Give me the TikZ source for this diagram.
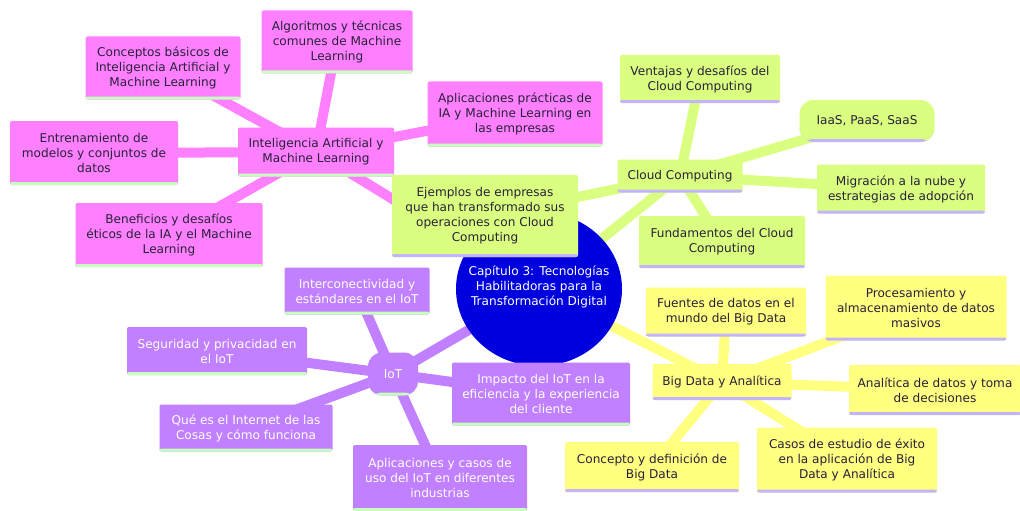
\documentclass[tikz,border=0pt]{standalone}
\usepackage{fontspec}
\setmainfont{DejaVu Sans}
\usepackage{tikz}
\usetikzlibrary{shapes.geometric, backgrounds}

\definecolor{rosa}{RGB}{255,128,255}
\definecolor{lima}{RGB}{218,255,128}
\definecolor{amarillo}{RGB}{255,255,128}
\definecolor{lila}{RGB}{192,128,255}
\definecolor{azul}{RGB}{0,0,222}
\definecolor{tinta}{RGB}{40,32,56}
\definecolor{bordeverde}{RGB}{200,255,190}
\definecolor{bordelila}{RGB}{196,180,255}

\begin{document}
\begin{tikzpicture}[
		x=1pt, y=-1pt,
		font=\fontsize{12.1}{15}\selectfont,
		% caja base de cada tema
		tema/.style={rectangle, rounded corners=2pt, align=center, inner sep=2pt},
		iabox/.style={tema, fill=rosa, text=tinta, path picture={\fill[bordeverde] ([yshift=3pt]path picture bounding box.south west) rectangle (path picture bounding box.south east);}},
		nubebox/.style={tema, fill=lima, text=tinta, path picture={\fill[bordelila] ([yshift=3pt]path picture bounding box.south west) rectangle (path picture bounding box.south east);}},
		iotbox/.style={tema, fill=lila, text=white, path picture={\fill[bordeverde] ([yshift=3pt]path picture bounding box.south west) rectangle (path picture bounding box.south east);}},
		datosbox/.style={tema, fill=amarillo, text=tinta, path picture={\fill[bordelila] ([yshift=3pt]path picture bounding box.south west) rectangle (path picture bounding box.south east);}},
		rama/.style={line width=10pt},
		]
		
		\useasboundingbox (0,0) rectangle (1020,511);
		
		% nodo central
		\node[ellipse, fill=azul, text=white, minimum width=166pt, minimum height=154pt] (centro) at (539,289) {};
		\node[align=center, text=white] (titulo) at (539,287) {Capítulo 3: Tecnologías\\Habilitadoras para la\\Transformación Digital};
		
		% Inteligencia Artificial
		\node[iabox, minimum width=156pt, minimum height=49pt] (ia) at (316,152) {Inteligencia Artificial y\\Machine Learning};
		\node[iabox, minimum width=155pt, minimum height=63pt] (conceptos) at (163,68) {Conceptos básicos de\\Inteligencia Artificial y\\Machine Learning};
		\node[iabox, minimum width=151pt, minimum height=63pt] (algoritmos) at (337,42) {Algoritmos y técnicas\\comunes de Machine\\Learning};
		\node[iabox, minimum width=175pt, minimum height=65pt] (aplicaciones) at (515,114) {Aplicaciones prácticas de\\IA y Machine Learning en\\las empresas};
		\node[iabox, minimum width=168pt, minimum height=64pt] (entrenamiento) at (94,153) {Entrenamiento de\\modelos y conjuntos de\\datos};
		\node[iabox, minimum width=187pt, minimum height=64pt] (beneficios) at (169,235) {Beneficios y desafíos\\éticos de la IA y el Machine\\Learning};
		
		% Cloud Computing
		\node[nubebox, minimum width=125pt, minimum height=33pt] (nube) at (680,176) {Cloud Computing};
		\node[nubebox, minimum width=186pt, minimum height=82pt] (ejemplos) at (485,216) {Ejemplos de empresas\\que han transformado sus\\operaciones con Cloud\\Computing};
		\node[nubebox, minimum width=160pt, minimum height=48pt] (ventajas) at (700,79) {Ventajas y desafíos del\\Cloud Computing};
		\node[nubebox, rounded corners=14pt, minimum width=135pt, minimum height=42pt] (iaas) at (867,121) {IaaS, PaaS, SaaS};
		\node[nubebox, minimum width=168pt, minimum height=49pt] (migracion) at (901,189) {Migración a la nube y\\estrategias de adopción};
		\node[nubebox, minimum width=166pt, minimum height=52pt] (fundamentos) at (722,242) {Fundamentos del Cloud\\Computing};
		
		% IoT
		\node[iotbox, rounded corners=14pt, minimum width=50pt, minimum height=43pt] (iot) at (393,374) {IoT};
		\node[iotbox, minimum width=145pt, minimum height=47pt] (interconectividad) at (357,291) {Interconectividad y\\estándares en el IoT};
		\node[iotbox, minimum width=180pt, minimum height=48pt] (seguridad) at (217,351) {Seguridad y privacidad en\\el IoT};
		\node[iotbox, minimum width=173pt, minimum height=47pt] (quees) at (246,428) {Qué es el Internet de las\\Cosas y cómo funciona};
		\node[iotbox, minimum width=174pt, minimum height=66pt] (casosuso) at (440,478) {Aplicaciones y casos de\\uso del IoT en diferentes\\industrias};
		\node[iotbox, minimum width=178pt, minimum height=63pt] (impacto) at (541,394) {Impacto del IoT en la\\eficiencia y la experiencia\\del cliente};
		
		% Big Data
		\node[datosbox, minimum width=139pt, minimum height=36pt] (bigdata) at (722,382) {Big Data y Analítica};
		\node[datosbox, minimum width=160pt, minimum height=49pt] (fuentes) at (726,312) {Fuentes de datos en el\\mundo del Big Data};
		\node[datosbox, minimum width=181pt, minimum height=65pt] (procesamiento) at (916,308) {Procesamiento y\\almacenamiento de datos\\masivos};
		\node[datosbox, minimum width=172pt, minimum height=50pt] (analitica) at (935,390) {Analítica de datos y toma\\de decisiones};
		\node[datosbox, minimum width=174pt, minimum height=50pt] (concepto) at (652,467) {Concepto y definición de\\Big Data};
		\node[datosbox, minimum width=180pt, minimum height=65pt] (casos) at (847,460) {Casos de estudio de éxito\\en la aplicación de Big\\Data y Analítica};
		
		% ramas detras de las cajas
		\begin{scope}[on background layer]
			\foreach \n in {conceptos, algoritmos, aplicaciones, entrenamiento, beneficios, centro}
			\draw[rama, rosa] (ia.center) -- (\n.center);
			\foreach \n in {ejemplos, ventajas, iaas, migracion, fundamentos, centro}
			\draw[rama, lima] (nube.center) -- (\n.center);
			\foreach \n in {interconectividad, seguridad, quees, casosuso, impacto, centro}
			\draw[rama, lila] (iot.center) -- (\n.center);
			\foreach \n in {fuentes, procesamiento, analitica, concepto, casos, centro}
			\draw[rama, amarillo] (bigdata.center) -- (\n.center);
		\end{scope}
		
	\end{tikzpicture}
\end{document}
